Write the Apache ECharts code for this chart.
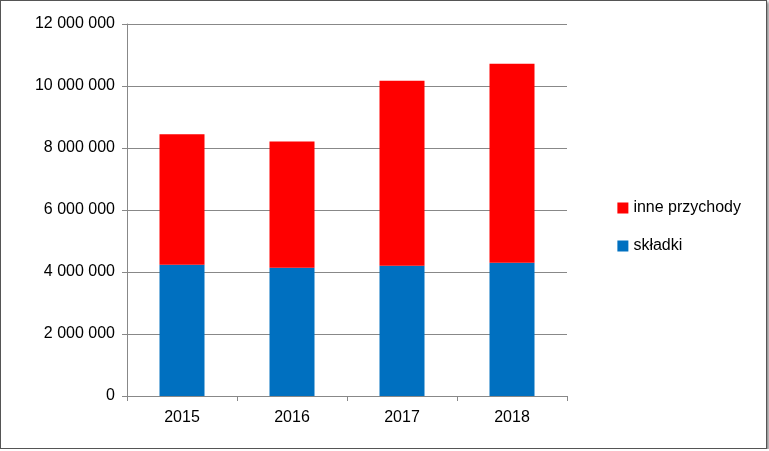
<!DOCTYPE html>
<html><head><meta charset="utf-8">
<script src="https://cdn.jsdelivr.net/npm/echarts@6/dist/echarts.min.js"></script>
<style>html,body{margin:0;padding:0;background:#fff}#c{width:767px;height:449px;border:1px solid #555;box-shadow:2px 2px 3px #888;box-sizing:border-box}</style>
</head><body><div id="c"></div>
<script>
const categories=['2015','2016','2017','2018'];
const skladki=[4230000,4140000,4200000,4300000];
const inne=[4210000,4070000,5970000,6420000];
const chart=echarts.init(document.getElementById('c'));
const fmt=v=>String(v).replace(/\B(?=(\d{3})+(?!\d))/g,' ');
chart.setOption({
 animation:false,
 grid:{left:126,right:199,top:23,bottom:52},
 legend:{orient:'vertical',right:20,top:194,itemGap:22,itemWidth:11,itemHeight:11,icon:'rect',
  textStyle:{fontFamily:'Liberation Sans',fontSize:16,color:'#000'},data:['inne przychody','składki']},
 xAxis:{type:'category',data:categories,axisLine:{lineStyle:{color:'#888'}},axisTick:{show:true,lineStyle:{color:'#888'}},
  axisLabel:{fontFamily:'Liberation Sans',fontSize:16,color:'#000',margin:14}},
 yAxis:{type:'value',min:0,max:12000000,interval:2000000,axisLine:{show:true,lineStyle:{color:'#888'}},axisTick:{show:true,lineStyle:{color:'#888'}},
  splitLine:{lineStyle:{color:'#888'}},axisLabel:{formatter:fmt,fontFamily:'Liberation Sans',fontSize:16,color:'#000',margin:12}},
 series:[
  {name:'składki',type:'bar',stack:'a',data:skladki,barWidth:45,itemStyle:{color:'#0070C0'}},
  {name:'inne przychody',type:'bar',stack:'a',data:inne,barWidth:45,itemStyle:{color:'#FF0000'}}
 ]
});
</script></body></html>
